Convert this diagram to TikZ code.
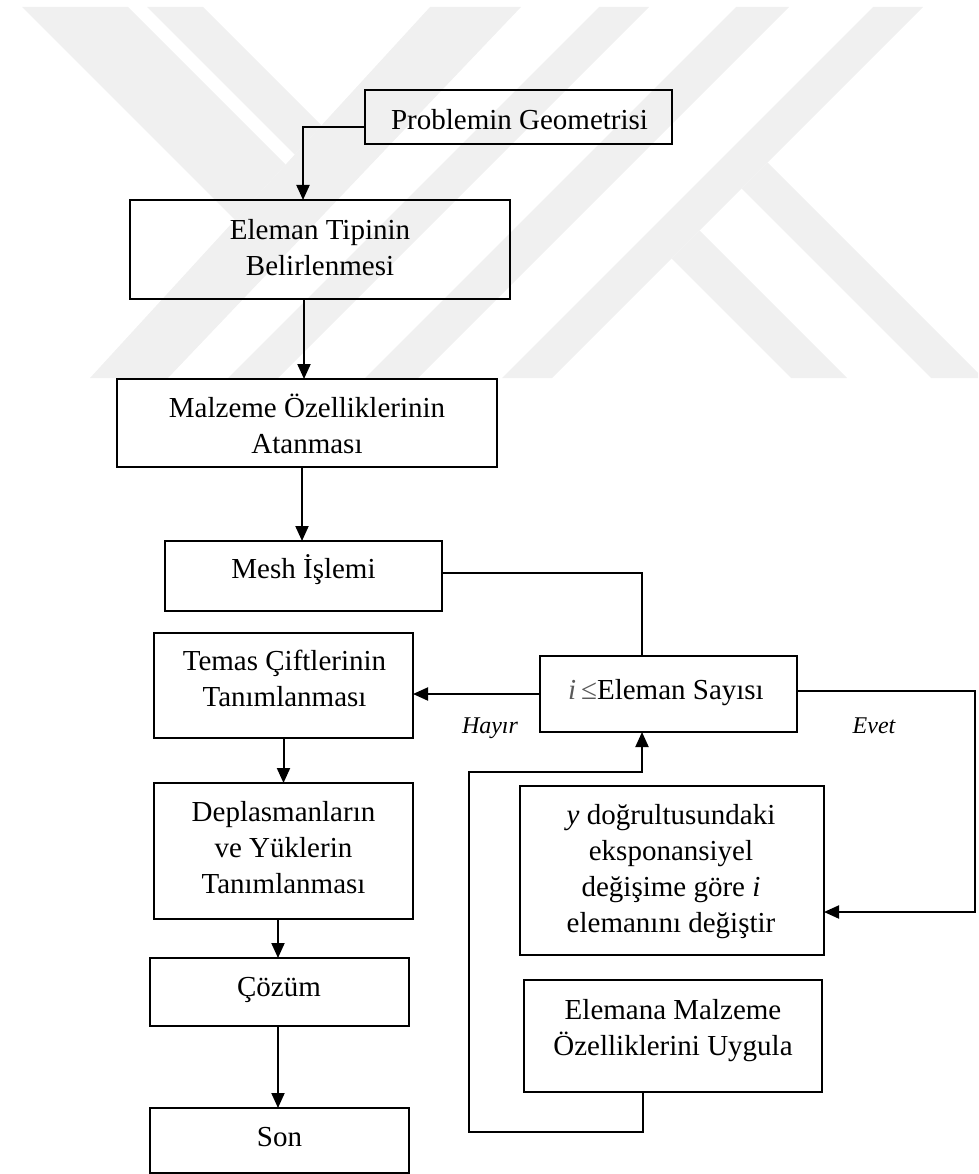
\documentclass[tikz,border=0pt]{standalone}
\usepackage{fontspec}
\setmainfont{Liberation Serif}
\usetikzlibrary{arrows.meta}
\newcommand\fsmain{\fontsize{29}{36}\selectfont}
\newcommand\fslab{\fontsize{24}{29}\selectfont}
\begin{document}
\begin{tikzpicture}[x=1pt,y=-1pt,
  box/.style={draw, line width=2pt, inner sep=0pt, outer sep=0pt},
  txt/.style={align=center, inner sep=0pt, font=\fsmain},
  lab/.style={inner sep=0pt, font=\fslab\itshape},
  conn/.style={line width=2pt},
  arr/.style={line width=2pt, -{Triangle[length=15pt,width=13pt]}},
  wm/.style={fill=black!6, draw=none}]
\useasboundingbox (0,0) rectangle (978,1174);
% watermark
\fill[wm] (22,7) -- (128,7) -- (285.6,164.6) -- (235,220) -- cycle;
\fill[wm] (147,7) -- (203,7) -- (321.5,125.5) -- (294.7,154.7) -- cycle;
\fill[wm] (430,7) -- (521,7) -- (168,378) -- (90,378) -- cycle;
\fill[wm] (599,7) -- (649,7) -- (278,378) -- (228,378) -- cycle;
\fill[wm] (736,7) -- (789,7) -- (418,378) -- (365,378) -- cycle;
\fill[wm] (873,7) -- (923,7) -- (552,378) -- (502,378) -- cycle;
\fill[wm] (767.5,162.5) -- (978,373) -- (978,378) -- (931,378) -- (741.5,188.5) -- cycle;
\fill[wm] (699.5,230.5) -- (847,378) -- (791,378) -- (671.5,258.5) -- cycle;
% boxes
\node[box, minimum width=307pt, minimum height=54pt] (prob) at (518.5,117) {};
\node[box, minimum width=380pt, minimum height=99pt] (elem) at (320,249.5) {};
\node[box, minimum width=380pt, minimum height=88pt] (malz) at (307,423) {};
\node[box, minimum width=277pt, minimum height=70pt] (mesh) at (303.5,576) {};
\node[box, minimum width=259pt, minimum height=105pt] (temas) at (283.5,685.5) {};
\node[box, minimum width=257pt, minimum height=76pt] (cond) at (668.5,694) {};
\node[box, minimum width=259pt, minimum height=136pt] (depl) at (283.5,851) {};
\node[box, minimum width=259pt, minimum height=68pt] (coz) at (279.5,992) {};
\node[box, minimum width=259pt, minimum height=65pt] (son) at (279.5,1140.5) {};
\node[box, minimum width=304pt, minimum height=169pt] (ydog) at (672,870.5) {};
\node[box, minimum width=298pt, minimum height=112pt] (elmn) at (673,1036) {};
% texts
\node[txt] (prob-t) at (519.5,122) {\strut Problemin Geometrisi};
\node[txt] (elem-t) at (320,250.5) {\strut Eleman Tipinin\\\strut Belirlenmesi};
\node[txt] (malz-t) at (307,428) {\strut Malzeme Özelliklerinin\\\strut Atanması};
\node[txt] (mesh-t) at (303.5,571) {\strut Mesh İşlemi};
\node[txt] (temas-t) at (284.5,681.5) {\strut Temas Çiftlerinin\\\strut Tanımlanması};
\node[txt] (cond-t) at (666,692) {\strut{\color{black!65}\textit{i}\,≤}Eleman Sayısı};
\node[txt] (depl-t) at (283.5,850) {\strut Deplasmanların\\\strut ve Yüklerin\\\strut Tanımlanması};
\node[txt] (coz-t) at (279,989) {\strut Çözüm};
\node[txt] (son-t) at (279.5,1139) {\strut Son};
\node[txt] (ydog-t) at (671,871.5) {\strut\textit{y} doğrultusundaki\\\strut eksponansiyel\\\strut değişime göre \textit{i}\\\strut elemanını değiştir};
\node[txt] (elmn-t) at (673,1030.5) {\strut Elemana Malzeme\\\strut Özelliklerini Uygula};
\node[lab] (hayir) at (490,728) {\strut Hayır};
\node[lab] (evet) at (874,728) {\strut Evet};
% connectors
\draw[arr] ([yshift=-10pt]prob.west) -| ([xshift=-17pt]elem.north);
\draw[arr] ([xshift=-16pt]elem.south) -- ([xshift=-16pt]elem.south |- malz.north);
\draw[arr] ([xshift=-5pt]malz.south) -- ([xshift=-5pt]malz.south |- mesh.north);
\draw[conn] ([yshift=3pt]mesh.east) -| ([xshift=-26.5pt]cond.north);
\draw[arr] (cond.west) -- (cond.west -| temas.east);
\draw[arr] (temas.south) -- (temas.south |- depl.north);
\draw[arr] ([xshift=-5.5pt]depl.south) -- ([xshift=-5.5pt]depl.south |- coz.north);
\draw[arr] ([xshift=-1.5pt]coz.south) -- ([xshift=-1.5pt]coz.south |- son.north);
\coordinate (rc) at (975,691);
\draw[arr] ([yshift=3pt]cond.east) -- (rc) |- ([yshift=-41.5pt]ydog.east);
\coordinate (lb) at (469,1132);
\coordinate (lt) at (469,772);
\draw[arr] ([xshift=-30pt]elmn.south) |- (lb) -- (lt) -| ([xshift=-26.5pt]cond.south);
\end{tikzpicture}
\end{document}
